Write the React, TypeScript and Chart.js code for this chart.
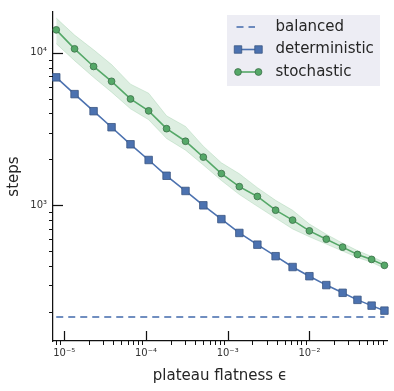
import React, { useEffect, useRef } from 'react';
import { Chart, registerables } from 'chart.js';

Chart.register(...registerables);

// ---- data ----
const epsilon = [8.0e-6, 1.34e-5, 2.29e-5, 3.8e-5, 6.48e-5, 1.08e-4, 1.79e-4, 3.05e-4, 5.04e-4, 8.38e-4,
  1.39e-3, 2.31e-3, 3.86e-3, 6.23e-3, 1.0e-2, 1.61e-2, 2.55e-2, 3.87e-2, 5.77e-2, 8.28e-2];
const deterministic = [6900, 5356, 4140, 3250, 2512, 1982, 1562, 1242, 1000, 812,
  659, 552, 464, 394, 343, 300, 267, 240, 220, 204];
const stochastic = [14130, 10610, 8130, 6500, 4980, 4160, 3180, 2630, 2070, 1615,
  1326, 1143, 929, 800, 680, 600, 532, 476, 442, 404];
const stochasticUpper = [16890, 13060, 10460, 8370, 6225, 5430, 3860, 3290, 2440, 1900,
  1610, 1306, 1078, 928, 754, 646, 565, 505, 462, 422];
const stochasticLower = [11470, 8880, 6900, 5520, 4290, 3640, 2740, 2300, 1838, 1455,
  1177, 985, 825, 700, 622, 557, 501, 455, 423, 386];
const balanced = 185;

const xTickValues = [1e-5, 1e-4, 1e-3, 1e-2];
const xTickLabels = ['10⁻⁵', '10⁻⁴', '10⁻³', '10⁻²'];
const yTickValues = [1e3, 1e4];
const yTickLabels = ['10³', '10⁴'];

const X_MIN = 7.3e-6;
const X_MAX = 0.089;
const Y_MIN = 129;
const Y_MAX = 18500;

const BLUE = '#4C72B0';
const GREEN = '#55A868';
const FONT = '"DejaVu Sans", sans-serif';
const TEXT = '#262626';

function logTicks(min: number, max: number) {
  const out: { value: number; major: boolean }[] = [];
  const e0 = Math.floor(Math.log10(min));
  const e1 = Math.ceil(Math.log10(max));
  for (let e = e0; e <= e1; e++) {
    for (let m = 1; m <= 9; m++) {
      const v = Number((m * Math.pow(10, e)).toPrecision(6));
      if (v >= min && v <= max) out.push({ value: v, major: m === 1 });
    }
  }
  return out;
}

function labelFor(v: number, values: number[], labels: string[]) {
  for (let i = 0; i < values.length; i++) {
    if (Math.abs(Math.log10(v) - Math.log10(values[i])) < 1e-6) return labels[i];
  }
  return '';
}

const pts = (ys: number[]) => epsilon.map((x, i) => ({ x, y: ys[i] }));

const tickPlugin = {
  id: 'mplTicks',
  afterDraw(chart: any) {
    const { ctx, chartArea: a } = chart;
    const xs = chart.scales.x;
    const ys = chart.scales.y;
    ctx.save();
    ctx.strokeStyle = '#111';
    xs.ticks.forEach((t: any) => {
      const px = Math.round(xs.getPixelForValue(t.value)) + 0.5;
      const major = labelFor(t.value, xTickValues, xTickLabels) !== '';
      ctx.lineWidth = major ? 1.25 : 1;
      ctx.beginPath();
      if (major) { ctx.moveTo(px, a.bottom); ctx.lineTo(px, a.bottom - 10); }
      else { ctx.moveTo(px, a.bottom); ctx.lineTo(px, a.bottom + 4); }
      ctx.stroke();
    });
    ys.ticks.forEach((t: any) => {
      const py = Math.round(ys.getPixelForValue(t.value)) + 0.5;
      const major = labelFor(t.value, yTickValues, yTickLabels) !== '';
      ctx.lineWidth = major ? 1.25 : 1;
      ctx.beginPath();
      if (major) { ctx.moveTo(a.left, py); ctx.lineTo(a.left + 10, py); }
      else { ctx.moveTo(a.left, py); ctx.lineTo(a.left - 4, py); }
      ctx.stroke();
    });
    ctx.restore();
  },
};

const legendPlugin = {
  id: 'mplLegend',
  afterDraw(chart: any) {
    const ctx = chart.ctx;
    const ds = chart.data.datasets;
    const boxX = 227, boxY = 15, boxW = 153, boxH = 71;
    ctx.save();
    ctx.fillStyle = 'rgba(234,234,242,0.85)';
    ctx.fillRect(boxX, boxY, boxW, boxH);
    const rows = [ds[0], ds[1], ds[2]];
    const rowY = [27, 49.5, 72];
    rows.forEach((d: any, i: number) => {
      const y = rowY[i];
      ctx.save();
      ctx.strokeStyle = d.borderColor;
      ctx.lineWidth = d.borderWidth;
      ctx.setLineDash(d.borderDash || []);
      ctx.beginPath();
      ctx.moveTo(236.5, y);
      ctx.lineTo(d.borderDash ? 255 : 259, y);
      ctx.stroke();
      ctx.setLineDash([]);
      if (d.pointRadius > 0) {
        [238, 258.5].forEach((px) => {
          ctx.fillStyle = d.pointBackgroundColor;
          ctx.strokeStyle = d.pointBorderColor;
          ctx.lineWidth = d.pointBorderWidth;
          ctx.beginPath();
          if (d.pointStyle === 'rect') {
            const s = d.pointRadius * Math.SQRT1_2;
            ctx.rect(px - s, y - s, 2 * s, 2 * s);
          } else {
            ctx.arc(px, y, d.pointRadius, 0, Math.PI * 2);
          }
          ctx.fill();
          ctx.stroke();
        });
      }
      ctx.restore();
      ctx.fillStyle = TEXT;
      ctx.font = `15px ${FONT}`;
      ctx.textBaseline = 'middle';
      ctx.textAlign = 'left';
      ctx.fillText(d.label, 275.5, y);
    });
    ctx.restore();
  },
};

export default function App() {
  const ref = useRef<HTMLCanvasElement | null>(null);

  useEffect(() => {
    if (!ref.current) return;
    const chart = new Chart(ref.current, {
      type: 'line',
      data: {
        datasets: [
          {
            label: 'balanced',
            data: [{ x: epsilon[0], y: balanced }, { x: epsilon[epsilon.length - 1], y: balanced }],
            borderColor: 'rgba(76,114,176,0.8)',
            borderWidth: 2,
            borderDash: [7, 5],
            pointRadius: 0,
            order: 3,
          },
          {
            label: 'deterministic',
            data: pts(deterministic),
            borderColor: BLUE,
            borderWidth: 1.6,
            pointStyle: 'rect',
            pointRadius: 5.3,
            pointBackgroundColor: BLUE,
            pointBorderColor: '#3a5582',
            pointBorderWidth: 0.8,
            clip: false,
            order: 2,
          },
          {
            label: 'stochastic',
            data: pts(stochastic),
            borderColor: GREEN,
            borderWidth: 1.6,
            pointStyle: 'circle',
            pointRadius: 3.4,
            pointBackgroundColor: GREEN,
            pointBorderColor: '#3b6e47',
            pointBorderWidth: 0.8,
            clip: false,
            order: 1,
          },
          {
            label: 'stochastic upper',
            data: pts(stochasticUpper),
            borderColor: 'rgba(85,168,104,0.2)',
            borderWidth: 1,
            pointRadius: 0,
            fill: false,
            order: 10,
          },
          {
            label: 'stochastic lower',
            data: pts(stochasticLower),
            borderColor: 'rgba(85,168,104,0.2)',
            borderWidth: 1,
            backgroundColor: 'rgba(85,168,104,0.2)',
            pointRadius: 0,
            fill: '-1',
            order: 10,
          },
        ],
      },
      options: {
        animation: false,
        responsive: false,
        devicePixelRatio: 1,
        layout: { padding: { top: 7, right: 7, left: 0, bottom: 0 } },
        plugins: {
          legend: { display: false },
          tooltip: { enabled: false },
        },
        elements: { line: { tension: 0 } },
        scales: {
          x: {
            type: 'logarithmic',
            min: X_MIN,
            max: X_MAX,
            afterBuildTicks: (s: any) => { s.ticks = logTicks(X_MIN, X_MAX); },
            afterFit: (s: any) => { s.height = 50; },
            grid: { display: false, drawTicks: false },
            border: { display: true, color: '#111', width: 1.25 },
            ticks: {
              autoSkip: false,
              maxRotation: 0,
              padding: 6,
              color: '#333',
              font: { family: FONT, size: 10 },
              callback: (v: any) => labelFor(Number(v), xTickValues, xTickLabels),
            },
            title: {
              display: true,
              text: 'plateau flatness ϵ',
              color: TEXT,
              font: { family: FONT, size: 15 },
              padding: { top: 0, bottom: 6 },
            },
          },
          y: {
            type: 'logarithmic',
            min: Y_MIN,
            max: Y_MAX,
            afterBuildTicks: (s: any) => { s.ticks = logTicks(Y_MIN, Y_MAX); },
            afterFit: (s: any) => { s.width = 53; },
            grid: { display: false, drawTicks: false },
            border: { display: true, color: '#111', width: 1.25 },
            ticks: {
              autoSkip: false,
              padding: 6,
              color: '#333',
              font: { family: FONT, size: 10 },
              callback: (v: any) => labelFor(Number(v), yTickValues, yTickLabels),
            },
            title: {
              display: true,
              text: 'steps',
              color: TEXT,
              font: { family: FONT, size: 15 },
              padding: { top: 5, bottom: 0 },
            },
          },
        },
      },
      plugins: [tickPlugin, legendPlugin],
    } as any);
    return () => chart.destroy();
  }, []);

  return (
    <div style={{ position: 'absolute', left: 0, top: 0, width: 394, height: 391, background: '#fff' }}>
      <canvas ref={ref} width={394} height={391} style={{ display: 'block' }} />
    </div>
  );
}
